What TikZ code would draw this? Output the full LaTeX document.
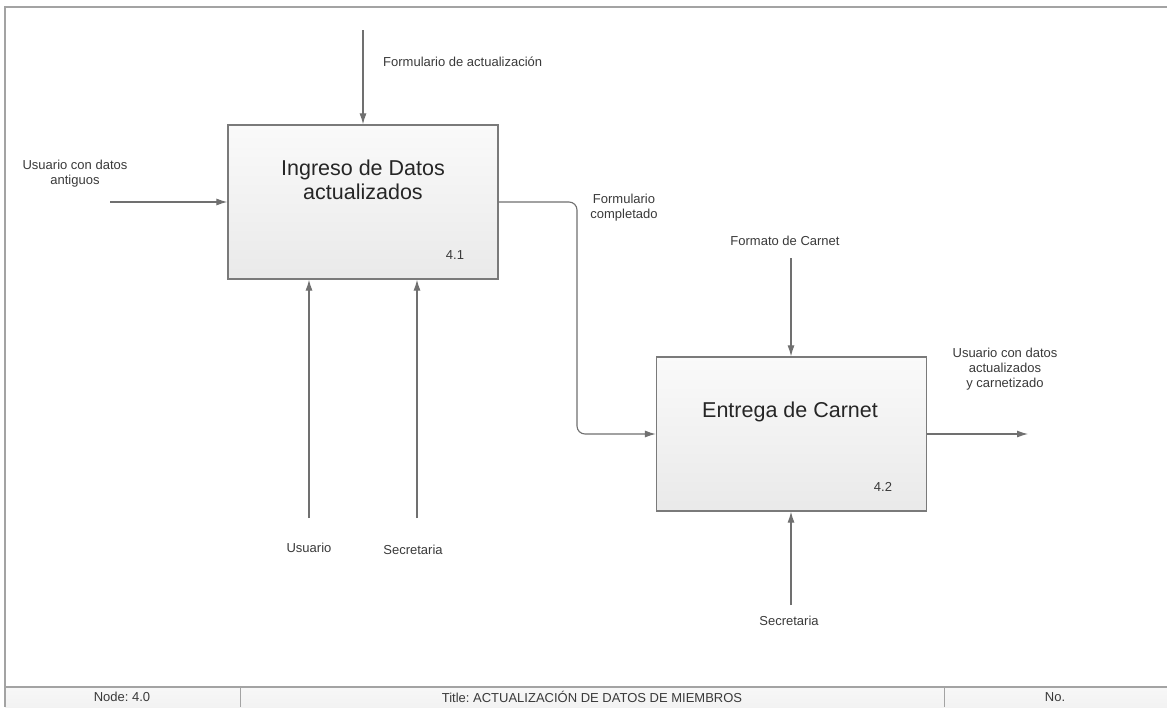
\documentclass[tikz,border=0pt]{standalone}
\usepackage{fontspec}
\setmainfont{Liberation Sans}
\frenchspacing
\usetikzlibrary{arrows.meta,calc}
\definecolor{linegray}{HTML}{707070}
\definecolor{framegray}{HTML}{A3A3A3}
\definecolor{textgray}{HTML}{3A3A3A}
\definecolor{boxline}{HTML}{7A7A7A}
\tikzset{
  x=1pt, y=-1pt,
  flow/.style={draw=linegray, line width=1.1pt, -{Latex[length=11pt,width=7pt]}},
  proc/.style={draw=boxline, line width=1.3pt, top color=gray!4, bottom color=gray!17,
    minimum width=270pt, minimum height=154pt, inner sep=0pt},
  ptitle/.style={font=\fontsize{21.5}{24}\selectfont, text=black!85, align=center, inner sep=0pt},
  pnum/.style={font=\fontsize{13}{15}\selectfont, text=textgray, inner sep=0pt},
  lbl/.style={font=\fontsize{13}{15}\selectfont, text=textgray, align=center, inner sep=0pt},
  bartext/.style={font=\fontsize{13}{15}\selectfont, text=textgray, inner sep=0pt},
}
\begin{document}
\begin{tikzpicture}
\useasboundingbox (0,0) rectangle (1167,707);
\fill[white] (0,0) rectangle (1167,707);

% sheet frame and title bar
\shade[top color=gray!6, bottom color=gray!10] (5,687) rectangle (1167,707);
\draw[framegray, line width=1.3pt] (5,707) -- (5,7) -- (1167,7);
\draw[framegray, line width=1.3pt] (5,687) -- (1167,687);
\draw[framegray, line width=1pt] (240,687) -- (240,707);
\draw[framegray, line width=1pt] (944,687) -- (944,707);
\node[bartext] (nodeid) at (122,697) {Node: 4.0};
\node[bartext] (title) at (592,697) {Title: ACTUALIZACIÓN DE DATOS DE MIEMBROS};
\node[bartext] (number) at (1055,697) {No.};

% activity boxes
\node[proc] (b1) at (363,202) {};
\node[ptitle] (t1) at (363,180) {Ingreso de Datos\\actualizados};
\node[pnum] (n1) at (455,255) {4.1};

\node[proc] (b2) at (791.5,434) {};
\node[ptitle] (t2) at (790,412) {Entrega de Carnet};
\node[pnum] (n2) at (883,487) {4.2};

% free ends of the arrows
\coordinate (cIn) at (363,30);
\coordinate (uIn) at (110,202);
\coordinate (uMec) at (309,518);
\coordinate (sMec) at (417,518);
\coordinate (bend) at (577,0);
\coordinate (fIn) at (791,258);
\coordinate (sMec2) at (791,605);
\coordinate (out) at (1028,434);

% connectors
\draw[flow] (cIn) -- (cIn |- b1.north);
\draw[flow] (uIn) -- (b1.west);
\draw[flow] (uMec) -- (uMec |- b1.south);
\draw[flow] (sMec) -- (sMec |- b1.south);
\draw[flow, rounded corners=8pt] (b1.east) -- (b1.east -| bend) -- (bend |- b2.west) -- (b2.west);
\draw[flow] (fIn) -- (fIn |- b2.north);
\draw[flow] (sMec2) -- (sMec2 |- b2.south);
\draw[flow] (b2.east) -- (out);

% arrow labels
\node[lbl, anchor=west] (lcIn) at (383,62) {Formulario de actualización};
\node[lbl] (luIn) at (75,174) {Usuario con datos\\antiguos};
\node[lbl] (luMec) at (309,548) {Usuario};
\node[lbl] (lsMec) at (413,550) {Secretaria};
\node[lbl] (lform) at (624,208) {Formulario\\completado};
\node[lbl] (lfIn) at (785,241) {Formato de Carnet};
\node[lbl] (lsMec2) at (789,621) {Secretaria};
\node[lbl] (lout) at (1005,369) {Usuario con datos\\actualizados\\y carnetizado};
\end{tikzpicture}
\end{document}
